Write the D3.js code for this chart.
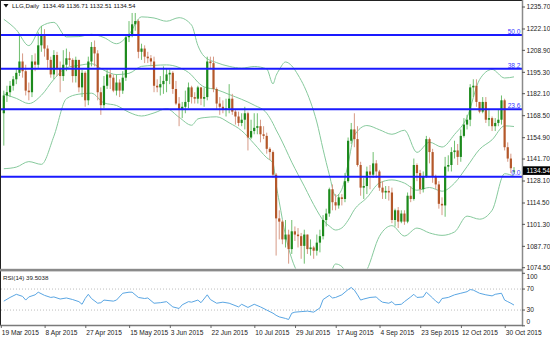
<!DOCTYPE html>
<html><head><meta charset="utf-8">
<script src="https://cdn.jsdelivr.net/npm/d3@7"></script>
<style>
html,body{margin:0;padding:0;background:#fff;}
svg{display:block;font-family:"Liberation Sans",Arial,sans-serif;}
</style></head><body>
<svg id="c" width="550" height="338"></svg>
<script>
const symbolTitle = "LLG,Daily";
const lastQuote = ["1134.49", "1136.71", "1132.51", "1134.54"];

const dates = [
"2015-03-19","2015-03-20","2015-03-23","2015-03-24","2015-03-25","2015-03-26","2015-03-27","2015-03-30","2015-03-31",
"2015-04-01","2015-04-02","2015-04-03","2015-04-06","2015-04-07","2015-04-08","2015-04-09","2015-04-10","2015-04-13","2015-04-14","2015-04-15","2015-04-16","2015-04-17","2015-04-20","2015-04-21","2015-04-22","2015-04-23","2015-04-24","2015-04-27","2015-04-28","2015-04-29","2015-04-30",
"2015-05-01","2015-05-04","2015-05-05","2015-05-06","2015-05-07","2015-05-08","2015-05-11","2015-05-12","2015-05-13","2015-05-14","2015-05-15","2015-05-18","2015-05-19","2015-05-20","2015-05-21","2015-05-22","2015-05-25","2015-05-26","2015-05-27","2015-05-28","2015-05-29",
"2015-06-01","2015-06-02","2015-06-03","2015-06-04","2015-06-05","2015-06-08","2015-06-09","2015-06-10","2015-06-11","2015-06-12","2015-06-15","2015-06-16","2015-06-17","2015-06-18","2015-06-19","2015-06-22","2015-06-23","2015-06-24","2015-06-25","2015-06-26","2015-06-29","2015-06-30",
"2015-07-01","2015-07-02","2015-07-03","2015-07-06","2015-07-07","2015-07-08","2015-07-09","2015-07-10","2015-07-13","2015-07-14","2015-07-15","2015-07-16","2015-07-17","2015-07-20","2015-07-21","2015-07-22","2015-07-23","2015-07-24","2015-07-27","2015-07-28","2015-07-29","2015-07-30","2015-07-31",
"2015-08-03","2015-08-04","2015-08-05","2015-08-06","2015-08-07","2015-08-10","2015-08-11","2015-08-12","2015-08-13","2015-08-14","2015-08-17","2015-08-18","2015-08-19","2015-08-20","2015-08-21","2015-08-24","2015-08-25","2015-08-26","2015-08-27","2015-08-28","2015-08-31",
"2015-09-01","2015-09-02","2015-09-03","2015-09-04","2015-09-07","2015-09-08","2015-09-09","2015-09-10","2015-09-11","2015-09-14","2015-09-15","2015-09-16","2015-09-17","2015-09-18","2015-09-21","2015-09-22","2015-09-23","2015-09-24","2015-09-25","2015-09-28","2015-09-29","2015-09-30",
"2015-10-01","2015-10-02","2015-10-05","2015-10-06","2015-10-07","2015-10-08","2015-10-09","2015-10-12","2015-10-13","2015-10-14","2015-10-15","2015-10-16","2015-10-19","2015-10-20","2015-10-21","2015-10-22","2015-10-23","2015-10-26","2015-10-27","2015-10-28","2015-10-29","2015-10-30",
"2015-11-02","2015-11-03"];

const opens = [1170,1181,1183,1187,1191,1195,1202,1196,1184,1183,1202,1200,1212,1219,1210,1203,1194,1206,1198,1193,1200,1204,1203,1193,1203,1186,1195,1178,1202,1211,1207,1183,1175,1187,1194,1192,1184,1189,1184,1192,1217,1219,1225,1227,1208,1210,1205,1204,1202,1187,1186,1188,1190,1194,1195,1185,1176,1172,1174,1177,1186,1180,1179,1186,1179,1180,1202,1201,1185,1176,1174,1172,1173,1179,1171,1168,1164,1166,1170,1155,1159,1161,1162,1157,1156,1148,1146,1132,1105,1103,1092,1095,1086,1097,1095,1094,1088,1095,1086,1087,1085,1090,1094,1104,1108,1123,1115,1113,1118,1117,1128,1153,1160,1154,1138,1124,1125,1134,1132,1139,1134,1124,1121,1122,1121,1104,1110,1103,1108,1103,1119,1117,1138,1133,1123,1131,1154,1146,1131,1126,1114,1113,1137,1138,1146,1147,1143,1156,1163,1166,1186,1187,1177,1171,1177,1166,1167,1162,1164,1166,1178,1149,1142,1134.49];
const highs = [1184,1187,1190,1193,1198,1219,1207,1200,1189,1206,1207,1220,1224,1222,1212,1205,1209,1208,1202,1209,1210,1208,1204,1205,1203,1197,1196,1205,1214,1215,1209,1186,1193,1197,1197,1194,1194,1191,1196,1219,1227,1232,1232,1228,1213,1212,1208,1206,1205,1191,1193,1199,1198,1197,1196,1190,1180,1177,1184,1189,1187,1183,1187,1186,1186,1205,1205,1205,1186,1180,1178,1179,1188,1182,1172,1171,1170,1174,1171,1166,1170,1170,1166,1162,1158,1149,1147,1133,1110,1104,1104,1098,1104,1100,1099,1096,1098,1095,1092,1088,1095,1098,1107,1111,1124,1126,1120,1120,1120,1133,1155,1164,1170,1162,1140,1130,1137,1138,1146,1141,1135,1128,1125,1125,1124,1111,1112,1110,1110,1121,1125,1142,1139,1135,1134,1156,1155,1148,1132,1128,1118,1143,1144,1149,1153,1151,1160,1167,1169,1188,1191,1191,1177,1180,1180,1172,1168,1167,1172,1181,1179,1152,1145,1136.71];
const lows = [1150,1177,1180,1184,1188,1193,1192,1181,1178,1180,1196,1198,1208,1205,1197,1192,1191,1193,1183,1190,1196,1199,1189,1189,1183,1180,1174,1175,1199,1199,1178,1169,1173,1185,1185,1183,1181,1180,1182,1190,1214,1217,1221,1204,1203,1201,1201,1199,1183,1183,1181,1182,1183,1188,1182,1175,1162,1167,1170,1173,1176,1176,1176,1175,1174,1178,1198,1183,1172,1169,1170,1168,1170,1169,1163,1162,1162,1160,1147,1154,1157,1157,1152,1154,1145,1141,1130,1082,1092,1089,1087,1077,1083,1091,1087,1080,1077,1083,1082,1080,1082,1084,1092,1100,1106,1110,1110,1111,1113,1115,1127,1151,1149,1137,1119,1117,1120,1123,1130,1130,1122,1117,1117,1116,1102,1100,1099,1102,1101,1102,1115,1116,1128,1120,1121,1130,1139,1127,1123,1111,1107,1106,1134,1134,1142,1138,1140,1155,1160,1162,1180,1174,1170,1170,1164,1162,1159,1159,1162,1163,1147,1140,1133,1132.51];
const closes = [1181,1183,1187,1191,1195,1202,1196,1184,1183,1202,1200,1212,1219,1210,1203,1194,1206,1198,1193,1200,1204,1203,1193,1203,1186,1195,1178,1202,1211,1207,1183,1175,1187,1194,1192,1184,1189,1184,1192,1217,1219,1225,1227,1208,1210,1205,1204,1202,1187,1186,1188,1190,1194,1195,1185,1176,1172,1174,1177,1186,1180,1179,1186,1179,1180,1202,1201,1185,1176,1174,1172,1173,1179,1171,1168,1164,1166,1170,1155,1159,1161,1162,1157,1156,1148,1146,1132,1105,1103,1092,1095,1086,1097,1095,1094,1088,1095,1086,1087,1085,1090,1094,1104,1108,1123,1115,1113,1118,1117,1128,1153,1160,1154,1138,1124,1125,1134,1132,1139,1134,1124,1121,1122,1121,1104,1110,1103,1108,1103,1119,1117,1138,1133,1123,1131,1154,1146,1131,1126,1114,1113,1137,1138,1146,1147,1143,1156,1163,1166,1186,1187,1177,1171,1177,1166,1167,1162,1164,1166,1178,1149,1142,1136,1134.54];

// Bollinger Bands (20,2) read at sampled bars
const bbBars = [0,4,8,12,16,20,24,28,32,36,40,44,48,52,56,60,62,64,68,72,76,80,84,86,87,88,90,92,94,96,98,100,102,104,106,108,110,112,116,120,124,128,132,136,140,144,148,152,156,160,163];
const bbUpper = [1228.1,1221.6,1211.8,1223.8,1226.2,1217.2,1217.4,1218.8,1216.8,1213.0,1218.8,1229.6,1228.9,1226.9,1229.1,1224.5,1211.9,1205.2,1201.3,1199.0,1197.9,1198.9,1197.4,1188.2,1193.4,1196.9,1201.7,1199.3,1193.7,1186.5,1177.0,1164.6,1147.7,1132.0,1118.7,1123.0,1138.7,1156.3,1162.4,1159.8,1157.0,1159.5,1145.8,1152.1,1149.1,1156.9,1167.5,1190.8,1197.1,1191.8,1192.5];
const bbMiddle = [1181.9,1179.2,1176.0,1181.1,1191.0,1198.1,1199.6,1200.6,1196.6,1193.9,1194.7,1199.0,1199.6,1199.9,1198.3,1193.6,1189.2,1186.3,1184.6,1181.6,1178.6,1175.0,1170.0,1163.7,1159.7,1156.1,1148.1,1139.7,1132.2,1124.9,1117.2,1110.0,1103.9,1100.3,1097.8,1099.1,1103.8,1110.4,1117.8,1126.9,1128.8,1126.8,1122.4,1124.1,1121.8,1126.8,1137.0,1147.7,1153.6,1162.2,1161.8];
const bbLower = [1135.7,1136.7,1140.1,1138.4,1155.8,1179.0,1181.8,1182.4,1176.4,1174.8,1170.6,1168.3,1170.2,1172.8,1167.5,1162.6,1166.5,1167.3,1167.8,1164.1,1159.2,1151.1,1142.5,1139.2,1126.0,1115.2,1094.5,1080.0,1070.7,1063.2,1057.4,1055.3,1060.1,1068.5,1076.8,1075.2,1068.9,1064.4,1073.1,1093.9,1100.5,1094.1,1099.0,1096.0,1094.5,1096.6,1106.4,1104.5,1110.0,1132.6,1131.1];

// RSI(14) read at sampled bars
const rsiBars = [0,2,4,6,7,8,10,11,13,15,16,18,20,22,24,25,26,27,28,30,31,32,35,36,38,40,41,43,45,46,48,50,52,54,56,57,59,60,62,63,65,66,68,70,72,75,76,78,80,82,84,86,87,88,90,91,92,93,95,97,99,101,102,104,105,106,108,110,111,112,113,114,115,117,119,120,121,123,124,125,127,128,130,131,132,134,135,137,138,139,140,142,144,146,148,149,150,152,154,156,157,159,160,161,162,163];
const rsiValues = [47,54,60,56,49,55,59,64,58,54,55,51,53,50,46,41,52,60,52,43,44,49,47,49,62,64,64,54,52,53,43,44,46,36,33,40,46,45,49,44,59,50,43,45,43,36,41,35,41,36,30,24,20,17,14,12,24,26,27,28,26,34,50,58,53,54,59,69,73,68,59,49,51,54,55,49,45,43,46,40,41,46,55,60,54,55,64,53,47,43,52,54,59,62,65,69,68,62,59,57,60,62,49,46,43,39.5];
const rsiLabel = "RSI(14) 39.5038";

// Fibonacci retracement levels
const fibLevels = ["0.0", "23.6", "38.2", "50.0"];
const fibPrices = [1130.8, 1172.5, 1197.5, 1218.4];

// Axis tick labels
const priceTicks = [1235.70,1222.10,1208.90,1195.30,1182.10,1168.50,1154.90,1141.70,1128.10,1114.50,1101.30,1087.70,1074.50];
const rsiTicks = [100, 70, 30, 0];
const dateTicks = ["2015-03-19","2015-04-08","2015-04-27","2015-05-15","2015-06-03","2015-06-22","2015-07-10","2015-07-29","2015-08-17","2015-09-04","2015-09-23","2015-10-12","2015-10-30"];

// ---------- drawing ----------
const svg = d3.select("#c");
const W = 550, H = 338;
const axisX = 522;
const mainTop = 1, mainBottom = 268.5, rsiTop = 272, rsiBottom = 325;

svg.append("rect").attr("width", W).attr("height", H).attr("fill", "#fff");

const x = d3.scalePoint().domain(dates).range([3.8, 514]);
const y = d3.scaleLinear().domain([1074.5, 1235.7]).range([267.7, 7.0]);
const yr = d3.scaleLinear().domain([0, 100]).range([325.8, 273.3]);

const defs = svg.append("defs");
defs.append("clipPath").attr("id", "mainClip").append("rect")
  .attr("x", 1).attr("y", mainTop).attr("width", axisX - 1).attr("height", mainBottom - mainTop);
defs.append("clipPath").attr("id", "rsiClip").append("rect")
  .attr("x", 1).attr("y", rsiTop).attr("width", axisX - 1).attr("height", rsiBottom - rsiTop);

const main = svg.append("g").attr("clip-path", "url(#mainClip)");

// Bollinger bands
const bbLine = arr => d3.line()
  .x((b) => x(dates[b]))
  .y((b, i) => y(arr[i]))
  .curve(d3.curveMonotoneX)(bbBars);
[bbUpper, bbMiddle, bbLower].forEach(arr => {
  main.append("path").attr("d", bbLine(arr))
    .attr("fill", "none").attr("stroke", "#86c99c").attr("stroke-width", 1);
});

// Candles
const idx = d3.range(dates.length);
const cg = main.append("g");
cg.selectAll("line.wick").data(idx).join("line")
  .attr("class", "wick")
  .attr("x1", i => x(dates[i])).attr("x2", i => x(dates[i]))
  .attr("y1", i => y(highs[i])).attr("y2", i => y(lows[i]))
  .attr("stroke", i => closes[i] >= opens[i] ? "#6fbf6f" : "#d79a86")
  .attr("stroke-width", 1);
cg.selectAll("rect.body").data(idx).join("rect")
  .attr("class", "body")
  .attr("x", i => x(dates[i]) - 1.1)
  .attr("width", 2.2)
  .attr("y", i => y(Math.max(opens[i], closes[i])))
  .attr("height", i => Math.max(1, Math.abs(y(opens[i]) - y(closes[i]))))
  .attr("fill", i => closes[i] >= opens[i] ? "#1c8a1c" : "#b4582a");

// Fibonacci lines
const fg = svg.append("g");
fibPrices.forEach((p, i) => {
  fg.append("line").attr("x1", 0).attr("x2", axisX)
    .attr("y1", y(p)).attr("y2", y(p))
    .attr("stroke", "#1a1aff").attr("stroke-width", 2);
  fg.append("text").attr("x", 520.5).attr("y", y(p) - 1.2)
    .attr("text-anchor", "end").attr("font-size", 6.6).attr("fill", "#3a3aff")
    .text(fibLevels[i]);
});

// Frame
svg.append("line").attr("x1", 0.5).attr("x2", 0.5).attr("y1", 0).attr("y2", rsiBottom)
  .attr("stroke", "#222").attr("stroke-width", 1);
svg.append("line").attr("x1", 0).attr("x2", axisX).attr("y1", 0.5).attr("y2", 0.5)
  .attr("stroke", "#222").attr("stroke-width", 1);
svg.append("rect").attr("x", 0).attr("y", mainBottom + 0.3).attr("width", axisX + 1).attr("height", 2.6)
  .attr("fill", "#8a8a8a");
svg.append("line").attr("x1", 0).attr("x2", axisX + 1).attr("y1", rsiBottom + 0.5).attr("y2", rsiBottom + 0.5)
  .attr("stroke", "#7a7a7a").attr("stroke-width", 1.5);
svg.append("line").attr("x1", axisX + 0.5).attr("x2", axisX + 0.5).attr("y1", 0).attr("y2", rsiBottom + 1)
  .attr("stroke", "#8a8a8a").attr("stroke-width", 1.5);

// Price axis
const pa = svg.append("g");
priceTicks.forEach(p => {
  pa.append("line").attr("x1", axisX).attr("x2", axisX + 3).attr("y1", y(p)).attr("y2", y(p))
    .attr("stroke", "#555").attr("stroke-width", 1);
  pa.append("text").attr("x", axisX + 4.5).attr("y", y(p)).attr("dy", "0.35em")
    .attr("font-size", 6.6).attr("fill", "#222").text(d3.format(".2f")(p));
});
// Current price tag
const lastClose = closes[closes.length - 1];
svg.append("rect").attr("x", axisX + 1).attr("y", y(lastClose) - 4.3).attr("width", W - axisX - 1).attr("height", 8.6)
  .attr("fill", "#000");
svg.append("text").attr("x", axisX + 4.5).attr("y", y(lastClose)).attr("dy", "0.35em")
  .attr("font-size", 6.6).attr("fill", "#fff").text(d3.format(".2f")(lastClose));

// Header
svg.append("path").attr("d", "M3.5,4 L8.5,4 L6,7.5 Z").attr("fill", "#111");
svg.append("text").attr("x", 12).attr("y", 8.3).attr("font-size", 6.2).attr("fill", "#111")
  .attr("xml:space", "preserve")
  .text(symbolTitle + "  " + lastQuote.join(" "));

// RSI panel
const rg = svg.append("g");
[70, 30].forEach(v => {
  rg.append("line").attr("x1", 1).attr("x2", axisX).attr("y1", yr(v)).attr("y2", yr(v))
    .attr("stroke", "#bdbdbd").attr("stroke-width", 1).attr("stroke-dasharray", "1,2");
});
rg.append("path")
  .attr("clip-path", "url(#rsiClip)")
  .attr("d", d3.line().x(b => x(dates[b])).y((b, i) => yr(rsiValues[i]))(rsiBars))
  .attr("fill", "none").attr("stroke", "#5aa6e3").attr("stroke-width", 1);
rg.append("text").attr("x", 3).attr("y", 280).attr("font-size", 6.2).attr("fill", "#222").text(rsiLabel);
rsiTicks.forEach(v => {
  const ty = Math.min(Math.max(yr(v), rsiTop + 5), rsiBottom - 3.5);
  rg.append("line").attr("x1", axisX).attr("x2", axisX + 3).attr("y1", yr(v)).attr("y2", yr(v))
    .attr("stroke", "#555");
  rg.append("text").attr("x", axisX + 4.5).attr("y", ty).attr("dy", "0.35em")
    .attr("font-size", 6.6).attr("fill", "#222").text(v);
});

// Date axis
const fmt = d3.timeFormat("%-d %b %Y");
const parse = d3.timeParse("%Y-%m-%d");
const da = svg.append("g");
dateTicks.forEach(d => {
  const tx = x(d);
  da.append("line").attr("x1", tx - 2.5).attr("x2", tx - 2.5).attr("y1", rsiBottom).attr("y2", rsiBottom + 3)
    .attr("stroke", "#666");
  da.append("text").attr("x", tx - 2).attr("y", 334.5).attr("font-size", 6.6).attr("fill", "#222")
    .text(fmt(parse(d)));
});
</script>
</body></html>
